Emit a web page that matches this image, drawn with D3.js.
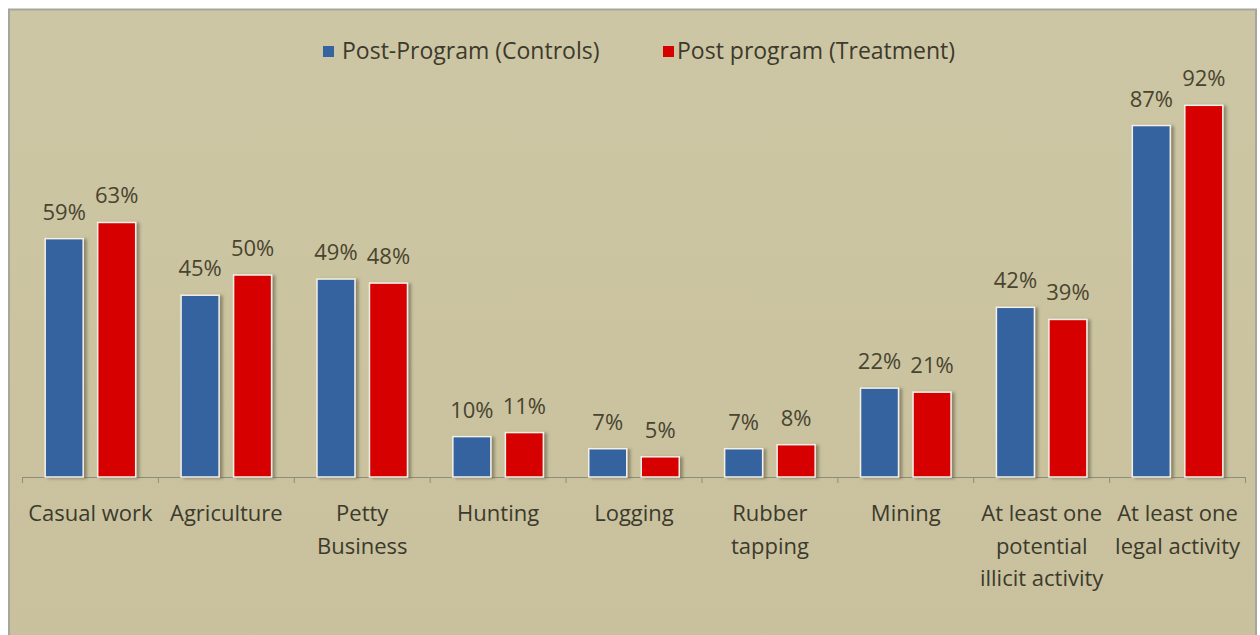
<!DOCTYPE html>
<html>
<head>
<meta charset="utf-8">
<script src="https://cdn.jsdelivr.net/npm/d3@7"></script>
<style>
  html, body { margin: 0; padding: 0; background: #ffffff; }
  svg { display: block; }
</style>
</head>
<body>
<svg id="chart" width="1260" height="635"></svg>
<script>
const categories = [
  ["Casual work"],
  ["Agriculture"],
  ["Petty", "Business"],
  ["Hunting"],
  ["Logging"],
  ["Rubber", "tapping"],
  ["Mining"],
  ["At least one", "potential", "illicit activity"],
  ["At least one", "legal activity"]
];
const controls = [59, 45, 49, 10, 7, 7, 22, 42, 87];
const treatment = [63, 50, 48, 11, 5, 8, 21, 39, 92];
const seriesNames = ["Post-Program (Controls)", "Post program (Treatment)"];
const seriesColors = ["#3463a0", "#d60000"];

const svg = d3.select("#chart");
const W = 1260, H = 635;
const FONT = "'Open Sans', Lato, sans-serif";
const FS = 22;

const defs = svg.append("defs");
const grad = defs.append("linearGradient").attr("id", "bg").attr("x1", 0).attr("y1", 0).attr("x2", 0).attr("y2", 1);
grad.append("stop").attr("offset", "0%").attr("stop-color", "#cdc6a4");
grad.append("stop").attr("offset", "100%").attr("stop-color", "#c9c19d");
const sh = defs.append("filter").attr("id", "shadow").attr("x", "-20%").attr("y", "-10%").attr("width", "160%").attr("height", "130%");
sh.append("feDropShadow").attr("dx", 3).attr("dy", 1).attr("stdDeviation", 1.5).attr("flood-color", "#5a5440").attr("flood-opacity", 0.55);

// background + frame
svg.append("rect").attr("x", 0).attr("y", 0).attr("width", W).attr("height", H).attr("fill", "#ffffff");
svg.append("rect").attr("x", 9).attr("y", 9.5).attr("width", 1247).attr("height", 640)
  .attr("fill", "url(#bg)").attr("stroke", "#a7a69c").attr("stroke-width", 2);

const left = 22.5, right = 1245.5, baseY = 477;
const x0 = d3.scaleBand().domain(d3.range(categories.length)).range([left, right]).paddingInner(0).paddingOuter(0);
const y = d3.scaleLinear().domain([0, 100]).range([baseY, baseY - 404]);

const step = x0.bandwidth();
const barW = 38, gap = 14.5;
const offsets = [step / 2 - gap / 2 - barW, step / 2 + gap / 2];

// axis
const axisG = svg.append("g");
axisG.append("line").attr("x1", left).attr("x2", right).attr("y1", baseY + 0.5).attr("y2", baseY + 0.5)
  .attr("stroke", "#8e8c7e").attr("stroke-width", 1);
const tickPos = d3.range(categories.length + 1).map(i => left + i * step);
axisG.selectAll("line.tick").data(tickPos).enter().append("line")
  .attr("x1", d => d).attr("x2", d => d).attr("y1", baseY).attr("y2", baseY + 6)
  .attr("stroke", "#8e8c7e").attr("stroke-width", 1);

// bars
const seriesData = [controls, treatment];
seriesData.forEach((vals, s) => {
  const g = svg.append("g");
  g.selectAll("rect").data(vals).enter().append("rect")
    .attr("x", (d, i) => x0(i) + offsets[s])
    .attr("y", d => y(d))
    .attr("width", barW)
    .attr("height", d => baseY - y(d))
    .attr("fill", seriesColors[s])
    .attr("stroke", "#f4f0e6").attr("stroke-width", 1.5)
    .attr("filter", "url(#shadow)");
  g.selectAll("text").data(vals).enter().append("text")
    .attr("x", (d, i) => x0(i) + offsets[s] + barW / 2)
    .attr("y", d => y(d) - 19)
    .attr("text-anchor", "middle")
    .attr("font-family", FONT).attr("font-size", FS)
    .attr("fill", "#48442f")
    .text(d => d + "%");
});

// category labels
const catG = svg.append("g");
categories.forEach((lines, i) => {
  const t = catG.append("text")
    .attr("x", x0(i) + step / 2)
    .attr("y", 521)
    .attr("text-anchor", "middle")
    .attr("font-family", FONT).attr("font-size", FS)
    .attr("fill", "#3c3a2c");
  lines.forEach((ln, k) => {
    t.append("tspan").attr("x", x0(i) + step / 2).attr("y", 521 + k * 32.5).text(ln);
  });
});

// legend
const legend = svg.append("g");
const legItems = [{x: 323, tx: 342}, {x: 663, tx: 677}];
seriesNames.forEach((n, s) => {
  legend.append("rect").attr("x", legItems[s].x).attr("y", 46).attr("width", 11).attr("height", 11)
    .attr("fill", seriesColors[s]);
  legend.append("text").attr("x", legItems[s].tx).attr("y", 58.5)
    .attr("font-family", FONT).attr("font-size", 23).attr("fill", "#3c3a2c").text(n);
});
</script>
</body>
</html>
